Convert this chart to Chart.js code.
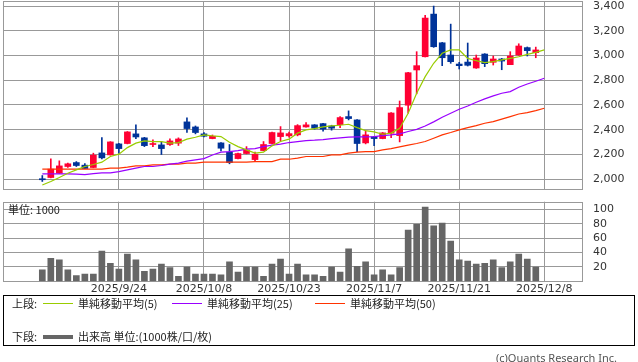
<!DOCTYPE html>
<html>
<head>
<meta charset="utf-8">
<script src="https://cdn.jsdelivr.net/npm/chart.js@4.4.1/dist/chart.umd.min.js"></script>
<style>
body { margin: 0; background: #fff; width: 638px; height: 362px; position: relative; overflow: hidden; font-family: "Noto Sans CJK JP", sans-serif; }
canvas { position: absolute; left: 0; }
#price { top: 0; }
#vol { top: 200px; }
.t { position: absolute; font-size: 11px; line-height: 11px; color: #222; white-space: nowrap; }
.ln { position: absolute; height: 1px; width: 30px; }
#box { position: absolute; left: 3px; top: 295px; width: 632px; height: 51px; border: 1px solid #000; box-sizing: border-box; }
</style>
</head>
<body>
<canvas id="price" width="638" height="192"></canvas>
<canvas id="vol" width="638" height="96"></canvas>
<div class="t" style="left:8px;top:204px;">単位: 1000</div>
<div id="box"></div>
<div class="t" style="left:12px;top:298px;">上段:</div>
<div class="ln" style="left:43px;top:303px;background:#99cc00;"></div>
<div class="t" style="left:78px;top:298px;">単純移動平均(5)</div>
<div class="ln" style="left:172px;top:303px;background:#9900ff;"></div>
<div class="t" style="left:207px;top:298px;">単純移動平均(25)</div>
<div class="ln" style="left:315px;top:303px;background:#ff3300;"></div>
<div class="t" style="left:350px;top:298px;">単純移動平均(50)</div>
<div class="t" style="left:12px;top:331px;">下段:</div>
<div class="ln" style="left:43px;top:335px;height:4px;background:#666;"></div>
<div class="t" style="left:78px;top:331px;">出来高 単位:(1000株/口/枚)</div>
<div class="t" style="right:21px;top:352px;color:#555;font-family:'Noto Sans',sans-serif;">(c)Quants Research Inc.</div>
<script>
// trading days shown (last one, 12/8, has no candle yet)
const dates = [
    "2025/9/9", "2025/9/10", "2025/9/11", "2025/9/12", "2025/9/16", "2025/9/17", "2025/9/18", "2025/9/19", "2025/9/22", "2025/9/24",
    "2025/9/25", "2025/9/26", "2025/9/29", "2025/9/30", "2025/10/1", "2025/10/2", "2025/10/3", "2025/10/6", "2025/10/7", "2025/10/8",
    "2025/10/9", "2025/10/10", "2025/10/14", "2025/10/15", "2025/10/16", "2025/10/17", "2025/10/20", "2025/10/21", "2025/10/22", "2025/10/23",
    "2025/10/24", "2025/10/27", "2025/10/28", "2025/10/29", "2025/10/30", "2025/10/31", "2025/11/4", "2025/11/5", "2025/11/6", "2025/11/7",
    "2025/11/10", "2025/11/11", "2025/11/12", "2025/11/13", "2025/11/14", "2025/11/17", "2025/11/18", "2025/11/19", "2025/11/20", "2025/11/21",
    "2025/11/25", "2025/11/26", "2025/11/27", "2025/11/28", "2025/12/1", "2025/12/2", "2025/12/3", "2025/12/4", "2025/12/5", "2025/12/8"
];
const tickIdx = [9, 19, 29, 39, 49, 59];

const opens = [2000, 2013, 2048, 2102, 2134, 2113, 2094, 2212, 2196, 2285,
    2288, 2366, 2334, 2280, 2277, 2280, 2291, 2463, 2422, 2366,
    2328, 2293, 2218, 2166, 2207, 2158, 2231, 2288, 2344, 2350,
    2358, 2422, 2439, 2449, 2430, 2441, 2506, 2479, 2293, 2342,
    2328, 2371, 2352, 2598, 2883, 2990, 3335, 3103, 3004, 2931,
    2947, 2899, 3012, 2945, 2972, 2926, 3004, 3064, 3023];
const highs = [2029, 2164, 2148, 2129, 2142, 2126, 2210, 2336, 2303, 2290,
    2385, 2439, 2338, 2317, 2304, 2325, 2334, 2495, 2430, 2377,
    2357, 2295, 2280, 2210, 2263, 2218, 2304, 2380, 2425, 2380,
    2441, 2457, 2441, 2452, 2436, 2506, 2552, 2482, 2390, 2345,
    2377, 2538, 2632, 2864, 3031, 3325, 3400, 3106, 3254, 2945,
    3101, 3004, 3015, 2996, 2977, 3031, 3095, 3069, 3068];
const lows = [1981, 2010, 2045, 2094, 2102, 2084, 2092, 2164, 2194, 2210,
    2285, 2328, 2263, 2263, 2199, 2272, 2272, 2377, 2366, 2341,
    2326, 2229, 2124, 2164, 2204, 2150, 2229, 2285, 2309, 2340,
    2350, 2420, 2404, 2387, 2396, 2417, 2479, 2223, 2285, 2271,
    2326, 2336, 2301, 2533, 2690, 2988, 3066, 2918, 2937, 2891,
    2915, 2896, 2910, 2923, 2885, 2926, 3002, 2996, 2982];
const closes = [1995, 2081, 2107, 2124, 2110, 2086, 2194, 2172, 2301, 2247,
    2382, 2341, 2271, 2284, 2247, 2309, 2325, 2409, 2377, 2347,
    2347, 2250, 2134, 2207, 2234, 2202, 2280, 2377, 2374, 2368,
    2433, 2439, 2412, 2404, 2412, 2498, 2490, 2288, 2358, 2328,
    2374, 2535, 2579, 2861, 2918, 3303, 3071, 2982, 2950, 2918,
    2921, 2980, 2934, 2972, 2955, 2996, 3077, 3039, 3045];

// volume, in 1000 shares
const volumes = [16, 32, 30, 16, 8, 10, 10, 42, 25, 17,
    38, 30, 14, 17, 24, 19, 7, 20, 10, 10,
    10, 9, 27, 13, 20, 20, 7, 24, 31, 10,
    24, 9, 9, 7, 20, 13, 45, 21, 27, 9,
    16, 9, 19, 71, 79, 103, 77, 81, 56, 30,
    28, 24, 25, 30, 19, 27, 38, 31, 20];

// moving averages
const ma5 = [1952, 1981, 2013, 2048, 2075, 2102, 2118, 2137, 2183, 2202,
    2255, 2291, 2309, 2304, 2304, 2291, 2296, 2323, 2339, 2358,
    2350, 2344, 2299, 2263, 2237, 2210, 2218, 2269, 2304, 2323,
    2372, 2398, 2409, 2422, 2430, 2436, 2444, 2417, 2393, 2382,
    2363, 2372, 2412, 2533, 2695, 2829, 2937, 3018, 3045, 3045,
    2977, 2958, 2942, 2950, 2964, 2977, 2990, 3009, 3026, 3045];
const ma25 = [2043, 2043, 2043, 2043, 2040, 2037, 2045, 2051, 2051, 2061,
    2075, 2089, 2102, 2102, 2110, 2121, 2129, 2145, 2156, 2166,
    2195, 2218, 2223, 2231, 2242, 2247, 2263, 2275, 2283, 2296,
    2304, 2312, 2315, 2320, 2328, 2334, 2339, 2342, 2342, 2344,
    2352, 2358, 2366, 2385, 2403, 2430, 2463, 2501, 2533, 2565,
    2592, 2622, 2649, 2673, 2695, 2708, 2743, 2770, 2792, 2816];
const ma50 = [2081, 2081, 2081, 2081, 2081, 2081, 2081, 2081, 2089, 2089,
    2097, 2107, 2107, 2115, 2115, 2121, 2121, 2129, 2129, 2137,
    2137, 2137, 2137, 2137, 2137, 2142, 2142, 2142, 2161, 2161,
    2170, 2183, 2183, 2183, 2196, 2196, 2210, 2218, 2223, 2223,
    2237, 2247, 2261, 2275, 2288, 2304, 2331, 2358, 2377, 2398,
    2417, 2433, 2452, 2465, 2485, 2506, 2527, 2538, 2554, 2573];

const upColor = "#ff0033";
const downColor = "#003399";
const gridColor = "#999999";

Chart.defaults.font.family = "'DejaVu Sans', sans-serif";
Chart.defaults.font.size = 11;
Chart.defaults.color = "#333";

const candleColors = closes.map((c, i) => c >= opens[i] ? upColor : downColor);

const frame = {
    id: "frame",
    beforeDatasetsDraw(chart) {
        const { ctx, chartArea: a } = chart;
        ctx.save();
        ctx.strokeStyle = gridColor;
        ctx.lineWidth = 1;
        ctx.strokeRect(Math.round(a.left) + 0.5, Math.round(a.top) + 0.5,
            Math.round(a.right - a.left) - 1, Math.round(a.bottom - a.top) - 1);
        ctx.restore();
    }
};

function xScale(showLabels, height) {
    return {
        type: "linear",
        min: -4.62,
        max: 63.55,
        offset: false,
        grid: { color: gridColor, drawTicks: false, offset: false },
        border: { display: false },
        ticks: {
            display: showLabels,
            autoSkip: false,
            maxRotation: 0,
            padding: 1,
            callback: (v) => dates[v]
        },
        afterBuildTicks: (s) => { s.ticks = tickIdx.map((v) => ({ value: v })); },
        afterFit: (s) => {
            s.height = height;
            s.paddingLeft = 0;
            s.paddingRight = 0;
        }
    };
}

function yScale(min, max, step, pad) {
    return {
        position: "right",
        min: min,
        max: max,
        grid: { color: gridColor, drawTicks: false },
        border: { display: false },
        ticks: {
            stepSize: step,
            includeBounds: false,
            autoSkip: false,
            padding: 10,
            callback: (v) => v === 0 ? "" : v.toLocaleString("en-US")
        },
        afterFit: (s) => {
            s.width = 55;
            s.paddingTop = 0;
            s.paddingBottom = 0;
        }
    };
}

function maLine(values, color) {
    return {
        type: "line",
        data: values.map((v, i) => ({ x: i, y: v })),
        borderColor: color,
        borderWidth: 1.2,
        pointRadius: 0,
        tension: 0,
        order: 0
    };
}

new Chart(document.getElementById("price"), {
    type: "bar",
    data: {
        datasets: [
            {
                data: lows.map((l, i) => ({ x: i, y: [l, highs[i]] })),
                backgroundColor: candleColors,
                barThickness: 1,
                grouped: false,
                order: 2
            },
            {
                data: opens.map((o, i) => ({ x: i, y: [o, closes[i]] })),
                backgroundColor: candleColors,
                barThickness: 6,
                minBarLength: 1,
                grouped: false,
                order: 1
            },
            maLine(ma5, "#99cc00"),
            maLine(ma25, "#9900ff"),
            maLine(ma50, "#ff3300")
        ]
    },
    options: {
        responsive: false,
        animation: false,
        layout: { padding: { left: 3, top: 1, right: 0, bottom: 2 } },
        plugins: { legend: { display: false }, tooltip: { enabled: false } },
        scales: {
            x: xScale(false, 0),
            y: yScale(1912, 3441, 200)
        }
    },
    plugins: [frame]
});

new Chart(document.getElementById("vol"), {
    type: "bar",
    data: {
        datasets: [{
            data: volumes.map((v, i) => ({ x: i, y: v })),
            backgroundColor: "#666666",
            barThickness: 6,
            grouped: false
        }]
    },
    options: {
        responsive: false,
        animation: false,
        layout: { padding: { left: 3, top: 1.7, right: 0, bottom: 1 } },
        plugins: { legend: { display: false }, tooltip: { enabled: false } },
        scales: {
            x: xScale(true, 13.6),
            y: yScale(0, 110.5, 20)
        }
    },
    plugins: [frame]
});
</script>
</body>
</html>
